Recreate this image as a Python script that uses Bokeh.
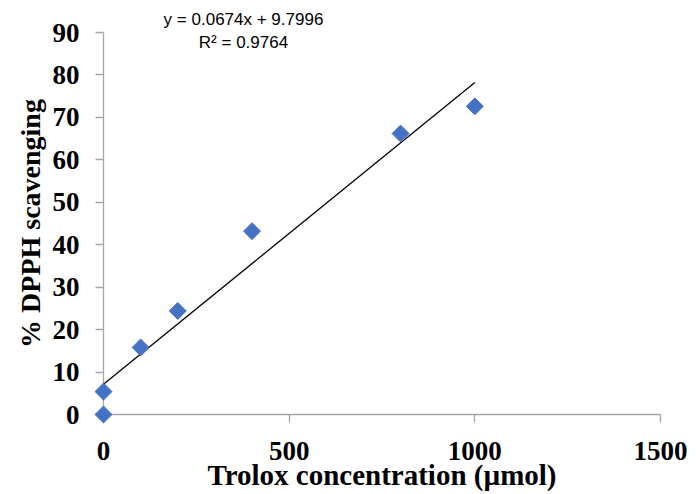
import numpy as np
from bokeh.plotting import figure
from bokeh.models import Range1d, FixedTicker
from bokeh.core.properties import value
from bokeh.embed import file_html
from bokeh.resources import INLINE

# ---- data ----
conc = [0, 0, 100, 200, 400, 800, 1000]          # Trolox concentration (µmol)
scav = [0.0, 5.4, 15.8, 24.4, 43.2, 66.2, 72.6]  # % DPPH scavenging
x_ticks = [0, 500, 1000, 1500]
y_ticks = [0, 10, 20, 30, 40, 50, 60, 70, 80, 90]
eq_lines = ["y = 0.0674x + 9.7996", "R\u00b2 = 0.9764"]
x_title = "Trolox concentration (\u00b5mol)"
y_title = "% DPPH scavenging"

# linear trendline computed from the data points
slope, intercept = np.polyfit(conc, scav, 1)
fit_x = [min(conc), max(conc)]
fit_y = [slope * v + intercept for v in fit_x]

AXIS_GREY = "#a6a6a6"
SERIF = "Liberation Serif"

p = figure(width=696, height=494,
           x_range=Range1d(0, 1500), y_range=Range1d(0, 90),
           output_backend="svg", toolbar_location=None,
           min_border_left=103, min_border_top=32,
           min_border_right=36, min_border_bottom=80)
p.grid.visible = False
p.outline_line_color = None
p.background_fill_color = "white"
p.border_fill_color = "white"

p.xaxis.ticker = FixedTicker(ticks=x_ticks)
p.yaxis.ticker = FixedTicker(ticks=y_ticks)
for ax in (p.xaxis, p.yaxis):
    ax.axis_line_color = AXIS_GREY
    ax.axis_line_width = 1.3
    ax.major_tick_line_color = AXIS_GREY
    ax.major_tick_line_width = 1.3
    ax.major_tick_out = 8
    ax.major_tick_in = 0
    ax.minor_tick_line_color = None
    ax.major_label_text_font = SERIF
    ax.major_label_text_font_style = "bold"
    ax.major_label_text_font_size = "27px"
    ax.major_label_text_color = "black"
    ax.axis_label_text_font = SERIF
    ax.axis_label_text_font_style = "bold"
    ax.axis_label_text_color = "black"

p.xaxis.axis_label = x_title
p.yaxis.axis_label = y_title
p.xaxis.axis_label_text_font_size = "29px"
p.yaxis.axis_label_text_font_size = "28px"
p.xaxis.major_label_standoff = 19
p.xaxis.axis_label_standoff = -4
p.yaxis.major_label_standoff = 16
p.yaxis.axis_label_standoff = 4

p.line(fit_x, fit_y, line_color="black", line_width=1.3)
p.scatter(conc, scav, marker="square", size=12, angle=np.pi / 4,
          fill_color="#4472C4", line_color="#4472C4", level="overlay")

# trendline equation text (data-space anchor above the plot area)
eq_x = [377, 377]
eq_y = [93.0, 87.6]
p.text(x=eq_x, y=eq_y, text=eq_lines, text_align="center",
       text_baseline="middle", text_font=value("Liberation Sans"),
       text_font_size="17px", text_color="black", level="overlay")

open("out.html", "w").write(file_html(p, INLINE))
